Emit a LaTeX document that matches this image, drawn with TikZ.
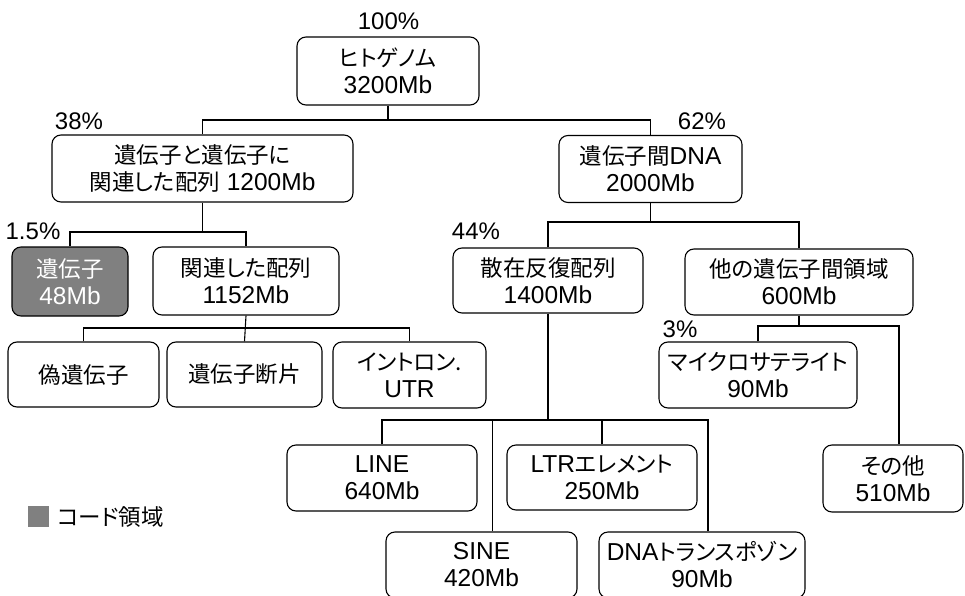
\documentclass[tikz,border=0pt]{standalone}
\usepackage{fontspec}
\setmainfont{Liberation Sans}
\newfontfamily\jpfont[RawFeature=+palt]{Noto Sans CJK JP}
\newcommand\jp[1]{{\fontsize{22.5}{27}\jpfont #1}}
\begin{document}
\begin{tikzpicture}[x=1pt,y=-1pt,
  box/.style={draw, line width=1.1pt, rounded corners=9pt, align=center, inner sep=0pt, font=\fontsize{24.5}{27}\selectfont},
  shadebox/.style={box, fill=black!50, text=white},
  pct/.style={font=\fontsize{24}{27}\selectfont, inner sep=0pt},
  con/.style={line width=1.1pt}]
\useasboundingbox (0,0) rectangle (965,596);
\clip (0,0) rectangle (965,596);
% boxes
\node[box, minimum width=182pt, minimum height=68pt] (root) at (388,71) {\jp{ヒトゲノム}\\3200Mb};
\node[box, minimum width=301pt, minimum height=67pt] (L1) at (202.5,168.5) {\jp{遺伝子と遺伝子に}\\\jp{関連した配列} 1200Mb};
\node[box, minimum width=183pt, minimum height=67pt] (R1) at (650.5,169) {\jp{遺伝子間}DNA\\2000Mb};
\node[shadebox, minimum width=116pt, minimum height=69pt] (gene) at (70,281.5) {\jp{遺伝子}\\48Mb};
\node[box, minimum width=186pt, minimum height=68pt] (rel) at (246,281) {\jp{関連した配列}\\1152Mb};
\node[box, minimum width=151pt, minimum height=65pt] (pseudo) at (83.5,374.5) {\jp{偽遺伝子}};
\node[box, minimum width=155pt, minimum height=65pt] (frag) at (244.5,374.5) {\jp{遺伝子断片}};
\node[box, minimum width=153pt, minimum height=66pt] (intron) at (409.5,375) {\jp{イントロン.}\\UTR};
\node[box, minimum width=190pt, minimum height=65pt] (scat) at (548,280.5) {\jp{散在反復配列}\\1400Mb};
\node[box, minimum width=228pt, minimum height=66pt] (other) at (799,282) {\jp{他の遺伝子間領域}\\600Mb};
\node[box, minimum width=198pt, minimum height=66pt] (micro) at (758,375) {\jp{マイクロサテライト}\\90Mb};
\node[box, minimum width=140pt, minimum height=67pt] (sonota) at (893,478.5) {\jp{その他}\\510Mb};
\node[box, minimum width=190pt, minimum height=66pt] (LINE) at (382,478) {LINE\\640Mb};
\node[box, minimum width=190pt, minimum height=65pt] (LTR) at (602,477.5) {LTR\jp{エレメント}\\250Mb};
\node[box, minimum width=191pt, minimum height=66pt] (SINE) at (481.5,565) {SINE\\420Mb};
\node[box, minimum width=206pt, minimum height=66pt] (DNA) at (702,565) {DNA\jp{トランスポゾン}\\90Mb};
% percentages
\node[pct] (p100) at (388.5,21.5) {100\%};
\node[pct] (p38) at (79,121) {38\%};
\node[pct] (p62) at (702,121) {62\%};
\node[pct] (p15) at (33,231) {1.5\%};
\node[pct] (p44) at (476,231) {44\%};
\node[pct] (p3) at (680,329) {3\%};
% legend
\node[fill=black!50, minimum size=21pt, inner sep=0pt] (lg) at (38.5,516) {};
\node[anchor=west, inner sep=0pt] (lgt) at (57,517) {\jp{コード領域}};
% connectors
\coordinate (sinetop) at ([xshift=11pt]SINE.north);
\coordinate (dnatop) at ([xshift=6pt]DNA.north);
\coordinate (sontop) at ([xshift=6pt]sonota.north);
\draw[con] (root.south) -- (root.south |- 0,120);
\draw[con] (L1.north) |- (R1.north |- 0,120) -- (R1.north);
\draw[con] (L1.south) -- (L1.south |- 0,232);
\draw[con] (gene.north) |- (rel.north |- 0,232) -- (rel.north);
\draw[con] (rel.south) -- (frag.north);
\draw[con] (pseudo.north) |- (intron.north |- 0,328) -- (intron.north);
\draw[con] (R1.south) -- (R1.south |- 0,222);
\draw[con] (scat.north) |- (other.north |- 0,222) -- (other.north);
\draw[con] (other.south) -- (other.south |- 0,326);
\draw[con] (micro.north) |- (sontop |- 0,326) -- (sontop);
\draw[con] (scat.south) -- (scat.south |- 0,420);
\draw[con] (LINE.north) |- (dnatop |- 0,420) -- (dnatop);
\draw[con] (LTR.north) -- (LTR.north |- 0,420);
\draw[con] (sinetop) -- (sinetop |- 0,420);
\end{tikzpicture}
\end{document}
